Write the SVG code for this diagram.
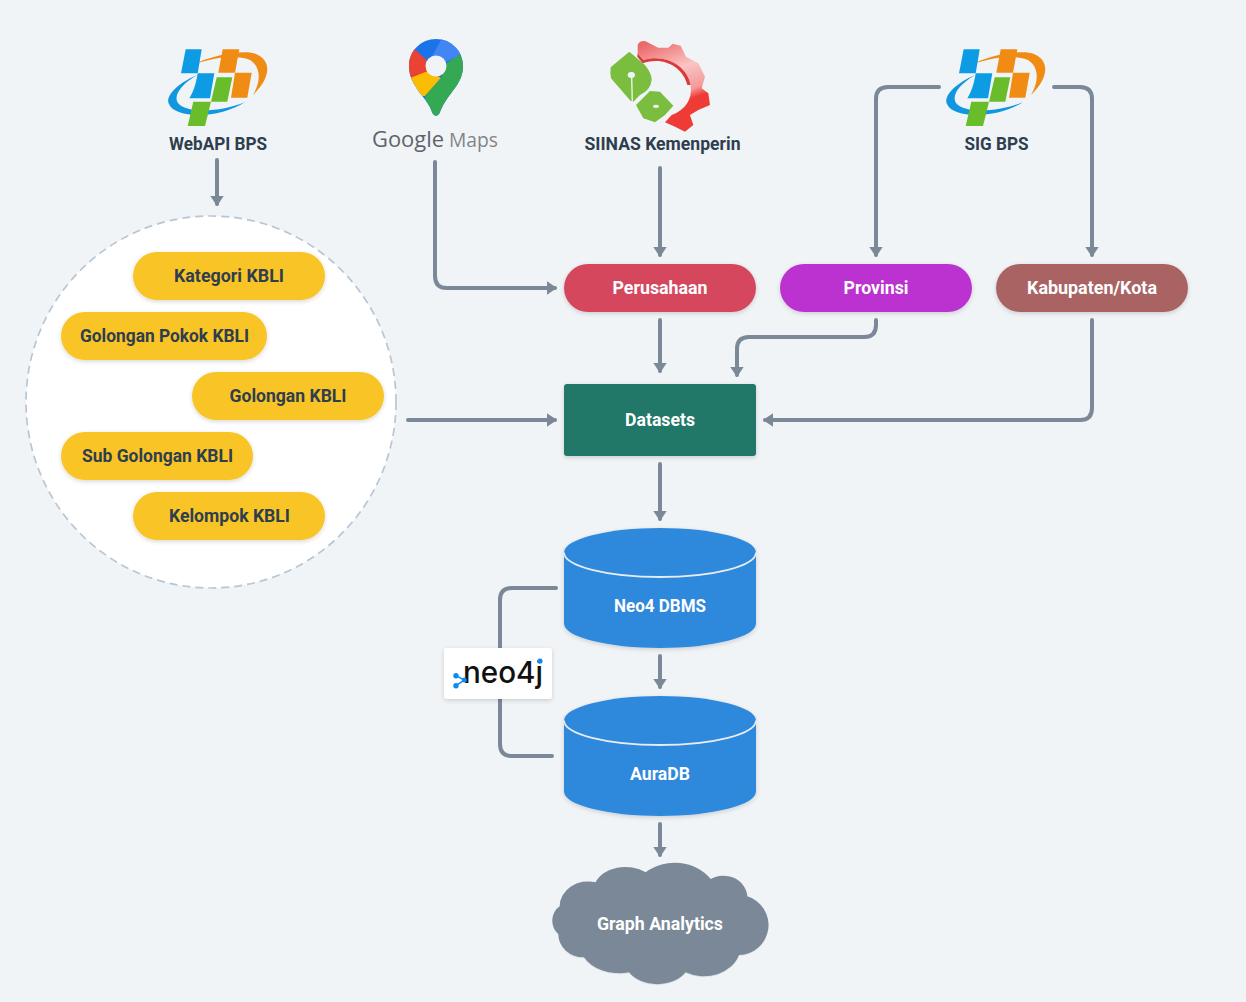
<svg xmlns="http://www.w3.org/2000/svg" xmlns:xlink="http://www.w3.org/1999/xlink" width="1246" height="1002" viewBox="0 0 1246 1002">
<style>
text{font-family:"Roboto","Liberation Sans",sans-serif;font-weight:700;font-size:17.5px;text-anchor:middle}
.d{fill:#2f3e4e}
.w{fill:#fff}
.c{fill:none;stroke:#7a8898;stroke-width:4;stroke-linecap:round;stroke-linejoin:round}
.a{marker-end:url(#arrow)}
.s{filter:url(#sh)}
.y{fill:#f9c425}
.cy{fill:#2e88db}
.rim{fill:none;stroke:#e6edf3;stroke-width:1.800}
</style>
<defs>
<filter id="sh" x="-10%" y="-20%" width="120%" height="140%"><feDropShadow dx="0" dy="1.5" stdDeviation="2" flood-color="#000" flood-opacity=".16"/></filter>
<marker id="arrow" markerUnits="userSpaceOnUse" markerWidth="14" markerHeight="14" refX="8" refY="7" orient="auto"><path d="M0,.3 L10,7 L0,13.700 Z" fill="#7a8898"/></marker>
<linearGradient id="gear" x1="0.25" y1="0" x2="0.55" y2="1"><stop offset="0" stop-color="#ec6a6a"/><stop offset=".36" stop-color="#fac4c4"/><stop offset=".62" stop-color="#f59a9a"/><stop offset=".72" stop-color="#ee3b36"/><stop offset="1" stop-color="#ee3b36"/></linearGradient>
<clipPath id="pin"><path d="M436,39 C451,39 463,51 463,66 C463,85 448,92 440,112 C438,117 434,117 432,112 C428,98 409,87 409,66 C409,51 421,39 436,39 Z"/></clipPath>
<g id="bps">
<path d="M192,65 C212,55 245,49 256,54 C271,60 272,77 253,95 C262,80 260,66 250,60 C235,54 212,58 192,65 Z" fill="#f08c14"/>
<path d="M197,75 C176,84 165,97 169,104 C176,120 222,118 245,102 C222,112 186,114 178,103 C173,95 182,84 197,75 Z" fill="#1197e0"/>
<path d="M185.700,49.300 L201.700,49.300 L197.700,73.300 L181,73.300 Z" fill="#0d9be3"/>
<path d="M197.700,73.300 L214.300,73.300 L210,98.300 L189.300,98.300 C193,93 196,84 197.700,73.300 Z" fill="#0d9be3"/>
<path d="M222.700,49.300 L239.300,49.300 L235,72.700 L218.300,72.700 Z" fill="#f08c14"/>
<path d="M235,72.700 L251.700,72.700 L247.300,97.700 L231,97.700 Z" fill="#f08c14"/>
<path d="M216.700,77.300 L232.300,77.300 L227.300,101.700 L211,101.700 Z" fill="#69bd2b"/>
<path d="M193.300,101.700 L211,101.700 L205,126 L187.700,126 Z" fill="#69bd2b"/>
</g>
</defs>
<rect width="1246" height="1002" fill="#f0f4f7"/>

<ellipse cx="211" cy="402" rx="185" ry="186" fill="#fff" stroke="#b8c6d4" stroke-width="1.700" stroke-dasharray="8 5"/>

<g id="connectors">
<path class="c a" d="M217,160 V204"/>
<path class="c a" d="M435,162 V276 Q435,288 447,288 H555"/>
<path class="c a" d="M660,168 V255"/>
<path class="c a" d="M939,87 H888 Q876,87 876,99 V255"/>
<path class="c a" d="M1054,87 H1080 Q1092,87 1092,99 V255"/>
<path class="c a" d="M660,320 V371"/>
<path class="c a" d="M876,320 V325 Q876,337 864,337 H749 Q737,337 737,349 V375"/>
<path class="c a" d="M1092,320 V408 Q1092,420 1080,420 H765"/>
<path class="c a" d="M408,420 H555"/>
<path class="c a" d="M660,464 V519"/>
<path class="c a" d="M660,656 V687"/>
<path class="c a" d="M660,824 V855"/>
<path class="c" d="M556,588 H512 Q500,588 500,600 V744 Q500,756 512,756 H552"/>
</g>

<g id="webapi-bps"><use href="#bps" xlink:href="#bps"/><text class="d" x="218" y="150" textLength="98" lengthAdjust="spacingAndGlyphs">WebAPI BPS</text></g>

<g id="google-maps">
<g clip-path="url(#pin)">
<rect x="405" y="35" width="62" height="85" fill="#1a73e8"/>
<polygon points="405,40 427.500,61 431,72 411,80 405,80" fill="#ea4335"/>
<polygon points="405,80 428,71 441,78 425,96 410,96" fill="#fbbc04"/>
<polygon points="443.300,36 470,36 470,52 445,62 430,60" fill="#4285f4"/>
<polygon points="460.700,54 470,54 470,120 428,120 425,96 441,78 445,64" fill="#34a853"/>
</g>
<circle cx="436" cy="66" r="10.500" fill="#f0f4f7"/>
<text x="408" y="147" fill="#5f6368" style="font-family:'Open Sans',sans-serif;font-weight:500;font-size:22px" textLength="72" lengthAdjust="spacingAndGlyphs">Google</text>
<text x="473.500" y="147" fill="#80868b" style="font-family:'Open Sans',sans-serif;font-weight:500;font-size:20px" textLength="49" lengthAdjust="spacingAndGlyphs">Maps</text>
</g>

<g id="siinas">
<g transform="translate(600,35) scale(.3333)">
<path d="M113,55 L113,30 Q118,16 135,18 L175,38 L205,38 L218,26 L242,32 L258,65 L295,85 L315,125 L305,160 L325,175 L330,210 L295,225 L270,240 L280,270 L255,290 L225,275 L195,262 L215,240 C255,225 278,195 272,150 C262,95 200,55 130,75 Z" fill="url(#gear)"/>
<path d="M113,55 L130,75 C200,55 262,95 272,150 L262,150 C250,100 195,62 128,85 L112,65 Z" fill="#d93a3a"/>
<path d="M88,50 L135,90 Q155,115 155,135 Q152,165 120,180 L100,200 L92,198 L33,130 Q30,112 32,97 Z" fill="#7abd3f"/>
<path d="M108,210 L150,168 L180,170 L220,212 L195,240 L165,262 L130,250 Z" fill="#7abd3f"/>
<ellipse cx="94" cy="120" rx="11" ry="9" fill="#f0f4f7"/>
<path d="M95,125 L97,200" stroke="#f0f4f7" stroke-width="4" fill="none"/>
<ellipse cx="168" cy="214" rx="9" ry="5" fill="#f0f4f7"/>
</g>
<text class="d" x="662.500" y="150" textLength="156" lengthAdjust="spacingAndGlyphs">SIINAS Kemenperin</text>
</g>

<g id="sig-bps"><use href="#bps" xlink:href="#bps" x="778"/><text class="d" x="996.500" y="150" textLength="64" lengthAdjust="spacingAndGlyphs">SIG BPS</text></g>

<g id="perusahaan"><rect class="s" x="564" y="264" width="192" height="48" rx="24" fill="#d5465b"/><text class="w" x="660" y="294" textLength="95" lengthAdjust="spacingAndGlyphs">Perusahaan</text></g>
<g id="provinsi"><rect class="s" x="780" y="264" width="192" height="48" rx="24" fill="#bb33d1"/><text class="w" x="876" y="294" textLength="65" lengthAdjust="spacingAndGlyphs">Provinsi</text></g>
<g id="kabupaten"><rect class="s" x="996" y="264" width="192" height="48" rx="24" fill="#a96363"/><text class="w" x="1092" y="294" textLength="130" lengthAdjust="spacingAndGlyphs">Kabupaten/Kota</text></g>

<g id="kategori"><rect class="s y" x="133" y="252" width="192" height="48" rx="24"/><text class="d" x="229" y="282" textLength="110" lengthAdjust="spacingAndGlyphs">Kategori KBLI</text></g>
<g id="golongan-pokok"><rect class="s y" x="61" y="312" width="206" height="48" rx="24"/><text class="d" x="164.500" y="342" textLength="169" lengthAdjust="spacingAndGlyphs">Golongan Pokok KBLI</text></g>
<g id="golongan"><rect class="s y" x="192" y="372" width="192" height="48" rx="24"/><text class="d" x="288" y="402" textLength="117" lengthAdjust="spacingAndGlyphs">Golongan KBLI</text></g>
<g id="sub-golongan"><rect class="s y" x="61" y="432" width="192" height="48" rx="24"/><text class="d" x="157.500" y="462" textLength="151" lengthAdjust="spacingAndGlyphs">Sub Golongan KBLI</text></g>
<g id="kelompok"><rect class="s y" x="133" y="492" width="192" height="48" rx="24"/><text class="d" x="229.500" y="522" textLength="121" lengthAdjust="spacingAndGlyphs">Kelompok KBLI</text></g>

<g id="datasets"><rect class="s" x="564" y="384" width="192" height="72" rx="3" fill="#207868"/><text class="w" x="660" y="426" textLength="70" lengthAdjust="spacingAndGlyphs">Datasets</text></g>

<g id="neo4-dbms"><path class="s cy" d="M564,552.500 A96,24.500 0 0 1 756,552.500 V623.500 A96,24.500 0 0 1 564,623.500 Z"/><path class="rim" d="M564,552.500 A96,24.500 0 0 0 756,552.500"/><text class="w" x="660" y="612" textLength="92" lengthAdjust="spacingAndGlyphs">Neo4 DBMS</text></g>
<g id="auradb"><path class="s cy" d="M564,720.500 A96,24.500 0 0 1 756,720.500 V791.500 A96,24.500 0 0 1 564,791.500 Z"/><path class="rim" d="M564,720.500 A96,24.500 0 0 0 756,720.500"/><text class="w" x="660" y="780" textLength="60" lengthAdjust="spacingAndGlyphs">AuraDB</text></g>

<g id="neo4j-logo"><rect class="s" x="444" y="648" width="108" height="51" rx="3" fill="#fff"/>
<text x="503" y="683" fill="#111" style="font-family:Inter,sans-serif;font-weight:500;font-size:30px" textLength="80" lengthAdjust="spacingAndGlyphs">neo4j</text>
<path d="M456,675.700 L464.300,680 L456,685.700" fill="none" stroke="#0a8cf0" stroke-width="1.500"/>
<circle cx="456" cy="675.700" r="2.700" fill="#0a8cf0"/><circle cx="464.300" cy="680" r="2.500" fill="#0a8cf0"/><circle cx="456" cy="685.700" r="2.700" fill="#0a8cf0"/><circle cx="540" cy="661" r="2.600" fill="#0a8cf0"/></g>

<g id="graph-analytics"><path class="s" transform="translate(529,819) scale(.3333)" fill="#7a8898" d="M200,190 A95,70 0 0 1 350,160 A130,110 0 0 1 545,180 A72,66 0 0 1 655,232 A90,90 0 0 1 630,408 A110,90 0 0 1 470,460 A100,75 0 0 1 300,460 A115,80 0 0 1 165,415 A75,70 0 0 1 88,345 A45,50 0 0 1 92,262 A85,75 0 0 1 200,190 Z"/><text class="w" x="660" y="930" textLength="126" lengthAdjust="spacingAndGlyphs">Graph Analytics</text></g>
</svg>
